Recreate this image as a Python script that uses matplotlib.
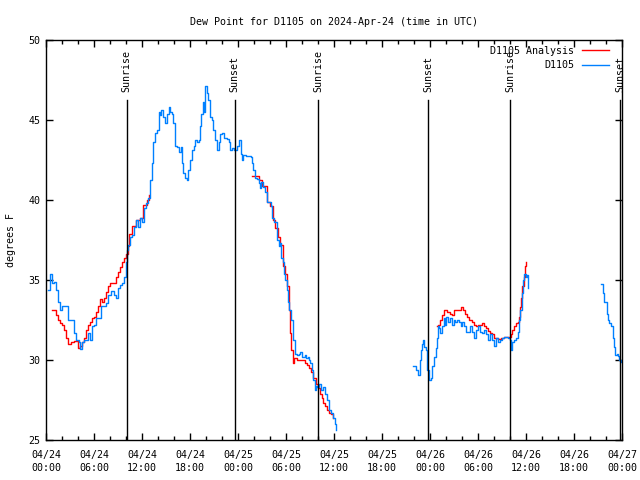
#!/usr/bin/env python3

import numpy as np
import matplotlib
matplotlib.use('Agg')
import matplotlib.pyplot as plt
import matplotlib.dates as mdates
from matplotlib.ticker import MultipleLocator
from datetime import datetime, timedelta

# Hours after 2024-04-24 00:00 UTC, NaN separates gaps in the record

obs_hours = [
    0.25, 0.5, 0.75, 1.0, 1.25, 1.5, 1.75, 2.0, 2.5, 2.75, 3.25, 3.5, 3.75, 4.1,
    4.25, 4.5, 4.75, 5.25, 5.5, 5.75, 6.0, 6.25, 6.6, 6.9, 7.5, 7.75, 8.1, 8.5,
    8.75, 9.0, 9.25, 9.5, 9.75, 10.0, 10.1, 10.25, 10.5, 10.75, 11.0, 11.25,
    11.5, 11.75, 12.0, 12.25, 12.5, 12.75, 13.0, 13.25, 13.4, 13.6, 13.9, 14.1,
    14.25, 14.4, 14.6, 14.9, 15.1, 15.4, 15.5, 15.75, 15.9, 16.1, 16.4, 16.6,
    16.9, 17.0, 17.1, 17.4, 17.6, 17.75, 18.0, 18.25, 18.5, 18.6, 18.9, 19.1,
    19.25, 19.4, 19.6, 19.75, 19.9, 20.1, 20.25, 20.5, 20.75, 20.9, 21.1, 21.4,
    21.6, 21.75, 22.0, 22.25, 22.6, 22.9, 23.0, 23.25, 23.5, 23.6, 23.9, 24.1,
    24.4, 24.5, 24.6, 25.0, 25.6, 25.75, 25.9, 26.1, 26.4, 26.6, 26.75, 26.9,
    27.1, 27.4, 27.6, 27.9, 28.1, 28.25, 28.5, 28.75, 28.9, 29.1, 29.25, 29.4,
    29.6, 29.75, 29.9, 30.1, 30.25, 30.4, 30.6, 30.9, 31.1, 31.4, 31.6, 31.75,
    32.0, 32.4, 32.5, 32.75, 32.9, 33.0, 33.25, 33.4, 33.6, 33.75, 33.9, 34.1,
    34.4, 34.6, 34.9, 35.1, 35.4, 35.6, 35.9, 36.1, 36.25,
    np.nan,
    45.9, 46.25, 46.5, 46.75, 46.9, 47.0, 47.1, 47.25, 47.5, 47.6, 47.9, 48.1,
    48.25, 48.5, 48.75, 48.9, 49.0, 49.1, 49.25, 49.5, 49.75, 49.9, 50.0, 50.25,
    50.5, 50.75, 51.0, 51.1, 51.4, 51.6, 51.9, 52.0, 52.25, 52.5, 52.75, 53.0,
    53.25, 53.5, 53.75, 54.0, 54.25, 54.5, 54.75, 55.0, 55.25, 55.5, 55.75,
    56.0, 56.25, 56.5, 56.75, 57.0, 57.25, 57.5, 57.75, 58.0, 58.1, 58.25,
    58.5, 58.75, 59.0, 59.1, 59.25, 59.5, 59.6, 59.75, 60.0, 60.1, 60.25,
    np.nan,
    69.4, 69.6, 69.75, 69.9, 70.1, 70.25, 70.4, 70.6, 70.9, 71.0, 71.1, 71.4,
    71.5, 71.6, 71.9,
]
obs_dewpt = [
    34.4, 35.4, 34.8, 34.9, 34.4, 33.6, 33.1, 33.4, 33.4, 32.5, 32.5, 31.7,
    31.25, 31.1, 30.7, 31.1, 31.25, 31.7, 31.25, 32.1, 32.2, 32.6, 32.6, 33.4,
    33.55, 34.05, 34.3, 34.05, 33.9, 34.5, 34.7, 34.8, 35.2, 36.1, 36.9, 37.2,
    37.7, 37.8, 38.3, 38.75, 38.3, 38.9, 38.6, 39.5, 39.8, 40.1, 41.25, 42.3,
    43.6, 44.2, 44.4, 45.5, 45.3, 45.6, 45.2, 44.8, 45.4, 45.8, 45.5, 45.4,
    44.8, 43.4, 43.3, 43.0, 43.3, 42.3, 41.7, 41.4, 41.25, 41.9, 42.5, 43.1,
    43.4, 43.75, 43.6, 43.75, 44.6, 45.4, 46.1, 45.5, 47.1, 46.7, 46.25, 45.2,
    45.0, 44.4, 43.75, 43.1, 43.6, 44.1, 44.2, 43.9, 43.8, 43.6, 43.1, 43.25,
    43.1, 43.1, 43.4, 43.75, 42.9, 42.5, 42.8, 42.75, 42.7, 42.3, 41.9, 41.4,
    41.3, 41.05, 40.75, 41.1, 40.8, 40.5, 39.9, 39.9, 39.6, 38.9, 38.6, 38.6,
    37.5, 37.1, 37.3, 36.4, 36.1, 35.4, 35.0, 34.4, 33.6, 33.1, 32.5, 31.25,
    30.4, 30.3, 30.4, 30.5, 30.2, 30.3, 30.1, 30.2, 30.0, 29.8, 29.4, 28.75,
    28.1, 28.4, 28.3, 28.5, 28.1, 28.3, 27.9, 27.5, 26.9, 26.7, 26.4, 26.0,
    25.6,
    np.nan,
    29.6, 29.4, 29.05, 30.0, 30.6, 31.0, 31.25, 30.8, 30.6, 29.4, 28.75, 28.9,
    29.6, 30.2, 30.75, 31.4, 32.1, 32.0, 31.7, 32.1, 32.6, 32.2, 32.7, 32.4,
    32.6, 32.2, 32.5, 32.4, 32.5, 32.4, 32.1, 32.4, 32.1, 31.75, 31.75, 32.1,
    31.75, 31.4, 31.9, 32.1, 31.75, 31.7, 31.9, 31.6, 31.25, 31.6, 31.25,
    30.9, 31.4, 31.1, 31.25, 31.4, 31.45, 31.45, 31.4, 31.25, 30.6, 31.1,
    31.25, 31.4, 31.75, 32.5, 33.1, 34.2, 35.0, 35.4, 35.2, 35.3, 34.5,
    np.nan,
    34.75, 34.2, 33.6, 33.6, 32.9, 32.5, 32.3, 32.1, 31.4, 30.8, 30.3, 30.4,
    30.25, 30.0, 29.9,
]

ana_hours = [
    0.75, 1.0, 1.25, 1.5, 1.75, 2.0, 2.25, 2.5, 2.75, 3.1, 3.5, 3.75, 4.0,
    4.25, 4.5, 4.75, 5.0, 5.25, 5.5, 5.75, 6.0, 6.25, 6.5, 6.75, 7.0, 7.25,
    7.5, 7.75, 8.0, 8.25, 8.5, 8.75, 9.0, 9.25, 9.5, 9.75, 10.0, 10.25, 10.4,
    10.75, 11.25, 11.75, 12.1, 12.6, 12.9,
    np.nan,
    25.75, 26.6, 27.0, 27.6, 28.0, 28.4, 28.6, 29.0, 29.25, 29.6, 29.9, 30.1,
    30.4, 30.5, 30.6, 30.9, 31.0, 31.4, 31.75, 32.1, 32.4, 32.6, 32.9, 33.1,
    33.4, 33.75, 34.0, 34.25, 34.5, 34.6, 34.9, 35.1, 35.4, 35.6, 35.9,
    np.nan,
    48.9, 49.0, 49.25, 49.5, 49.75, 50.1, 50.5, 50.75, 51.0, 51.25, 51.6, 51.9,
    52.1, 52.4, 52.6, 52.9, 53.25, 53.5, 53.75, 54.0, 54.5, 54.75, 55.0, 55.25,
    55.5, 55.75, 56.0, 56.25, 56.5, 56.9, 57.25, 57.5, 58.0, 58.1, 58.25, 58.5,
    58.75, 59.0, 59.1, 59.25, 59.4, 59.5, 59.75, 59.9, 60.0,
]
ana_dewpt = [
    33.1, 33.1, 32.8, 32.5, 32.3, 32.2, 31.9, 31.4, 31.0, 31.1, 31.2, 31.2,
    30.75, 30.9, 31.1, 31.4, 31.9, 32.2, 32.4, 32.6, 32.7, 33.0, 33.4, 33.8,
    33.6, 33.9, 34.25, 34.6, 34.8, 34.8, 34.8, 35.2, 35.5, 35.8, 36.1, 36.4,
    36.6, 37.1, 37.9, 38.4, 38.75, 38.9, 39.7, 40.0, 40.3,
    np.nan,
    41.5, 41.25, 40.9, 39.9, 39.6, 38.75, 38.25, 37.7, 37.2, 35.9, 35.4, 34.6,
    33.1, 31.7, 30.6, 29.8, 30.1, 30.0, 30.0, 30.0, 29.8, 29.7, 29.5, 29.25,
    28.9, 28.5, 28.25, 27.9, 27.6, 27.3, 27.1, 26.9, 26.7, 26.6, 26.4,
    np.nan,
    32.1, 32.2, 32.5, 32.8, 33.1, 33.0, 32.9, 32.8, 33.1, 33.1, 33.1, 33.3,
    33.1, 32.9, 32.7, 32.5, 32.4, 32.2, 32.1, 32.2, 32.3, 32.1, 32.0, 31.8,
    31.7, 31.6, 31.4, 31.4, 31.3, 31.4, 31.45, 31.45, 31.45, 31.6, 31.9, 32.1,
    32.3, 32.4, 32.7, 33.3, 33.9, 34.6, 35.2, 35.9, 36.1,
]

event_hours = [10.1, 23.6, 34.0, 47.75, 58.0, 71.75]
event_names = ['Sunrise', 'Sunset', 'Sunrise', 'Sunset', 'Sunrise', 'Sunset']

start = datetime(2024, 4, 24)


def to_dates(hours):
    # NaN hours become NaT so the line breaks at data gaps
    out = []
    for h in hours:
        out.append(np.datetime64('NaT') if np.isnan(h)
                   else np.datetime64(start + timedelta(hours=h)))
    return np.array(out, dtype='datetime64[s]')


plt.rcParams['font.family'] = ['DejaVu Sans Mono']
plt.rcParams['font.size'] = 7.2

fig = plt.figure(figsize=(6.4, 4.8), dpi=100)
ax = fig.add_axes([46 / 640, 40 / 480, 576 / 640, 400 / 480])

ax.plot(to_dates(ana_hours), ana_dewpt, color='#ff0000', lw=1,
        drawstyle='steps-post', label='D1105 Analysis')
ax.plot(to_dates(obs_hours), obs_dewpt, color='#0080ff', lw=1,
        drawstyle='steps-post', label='D1105')

for h, name in zip(event_hours, event_names):
    t = np.datetime64(start + timedelta(hours=h))
    ax.plot([t, t], [25, 46.25], color='black', lw=1)
    ax.text(t, 46.75, name, rotation=90, ha='center', va='bottom')

ax.set_xlim(np.datetime64(start), np.datetime64(start + timedelta(hours=72)))
ax.set_ylim(25, 50)
ax.xaxis.set_major_locator(mdates.HourLocator(byhour=[0, 6, 12, 18]))
ax.xaxis.set_minor_locator(mdates.HourLocator(interval=2))
ax.xaxis.set_major_formatter(mdates.DateFormatter('%m/%d\n%H:%M'))
ax.yaxis.set_major_locator(MultipleLocator(5))
ax.tick_params(which='both', direction='in', top=True, right=True, width=1)
ax.tick_params(which='major', length=5, pad=4)
ax.tick_params(axis='x', which='major', pad=7)
ax.tick_params(which='minor', length=3)
for lbl in ax.get_xticklabels():
    lbl.set_linespacing(1.45)
for s in ax.spines.values():
    s.set_linewidth(1)

ax.set_title('Dew Point for D1105 on 2024-Apr-24 (time in UTC)',
             fontsize=7.2, pad=11)
ax.set_ylabel('degrees F')
ax.yaxis.set_label_coords(-30 / 576, 0.5)

ax.legend(loc='upper right', bbox_to_anchor=(1 - 7 / 576, 1),
          frameon=False, markerfirst=False,
          handlelength=2.7, handletextpad=0.8, borderaxespad=0.2,
          labelspacing=0.45)

fig.savefig('out.png')
